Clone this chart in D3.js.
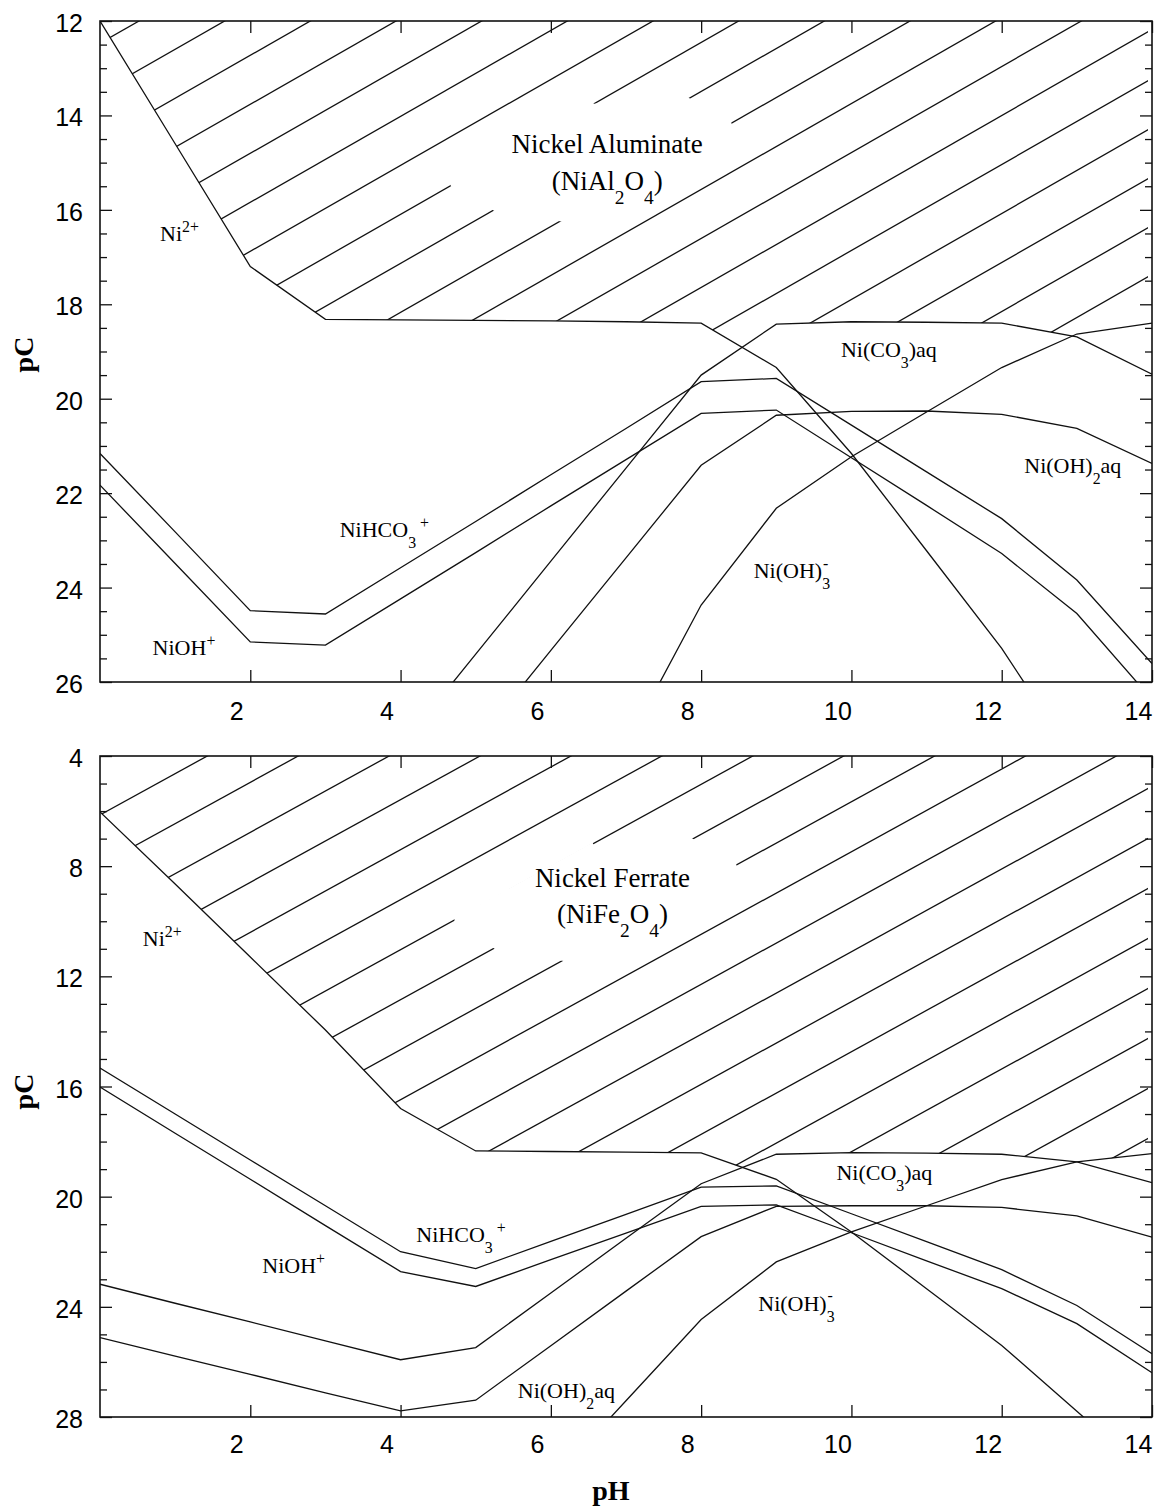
<!DOCTYPE html>
<html>
<head>
<meta charset="utf-8">
<script src="https://cdn.jsdelivr.net/npm/d3@7"></script>
<style>
  body { margin: 0; background: #fff; }
  svg { display: block; }
</style>
</head>
<body>
<svg id="chart" width="1154" height="1508"></svg>
<script>
// ---------------------------------------------------------------
// Data: pC of each solubility curve at integer pH (0 … 14).
// null = the curve lies outside the plotted pC range there.
// ---------------------------------------------------------------
const pHValues = d3.range(0, 15);

// Upper panel — nickel aluminate system
const aluNi2Boundary   = [12.0, 14.6, 17.2, 18.32, 18.33, 18.34, 18.35, 18.37, 18.40, 19.34, 21.16, 23.22, 25.29, 27.7, 30.1];
const aluNiCO3Boundary = [null, null, null, null, 27.38, 25.41, 23.44, 21.47, 19.50, 18.42, 18.37, 18.38, 18.40, 18.69, 19.48];
const aluNiOH2Boundary = [null, null, null, null, null, 27.30, 25.33, 23.37, 21.41, 20.35, 20.27, 20.26, 20.33, 20.63, 21.37];
const aluNiOH3Boundary = [null, null, null, null, null, null, null, 27.35, 24.37, 22.32, 21.23, 20.28, 19.34, 18.63, 18.40];
const aluNiHCO3Upper   = [21.16, 22.82, 24.49, 24.56, 23.58, 22.60, 21.61, 20.63, 19.64, 19.57, 20.56, 21.55, 22.54, 23.84, 25.61];
const aluNiHCO3Lower   = [21.83, 23.49, 25.15, 25.22, 24.24, 23.26, 22.27, 21.29, 20.31, 20.24, 21.25, 22.26, 23.28, 24.55, 26.37];

// Lower panel — nickel ferrate system
const ferNi2Boundary   = [6.03, 8.65, 11.30, 13.95, 16.80, 18.34, 18.36, 18.38, 18.41, 19.37, 21.28, 23.34, 25.40, 27.79, 30.2];
const ferNiCO3Boundary = [23.18, 23.87, 24.55, 25.24, 25.92, 25.48, 23.50, 21.51, 19.53, 18.46, 18.40, 18.42, 18.46, 18.74, 19.49];
const ferNiOH2Boundary = [25.12, 25.79, 26.45, 27.12, 27.78, 27.39, 25.41, 23.43, 21.45, 20.35, 20.33, 20.33, 20.39, 20.70, 21.47];
const ferNiOH3Boundary = [null, null, null, null, null, null, 30.36, 27.41, 24.46, 22.37, 21.28, 20.33, 19.38, 18.74, 18.44];
const ferNiHCO3Upper   = [15.33, 17.00, 18.67, 20.33, 22.00, 22.61, 21.62, 20.64, 19.65, 19.61, 20.62, 21.63, 22.65, 23.95, 25.70];
const ferNiHCO3Lower   = [16.02, 17.70, 19.37, 21.05, 22.72, 23.26, 22.29, 21.32, 20.35, 20.30, 21.31, 22.33, 23.34, 24.61, 26.39];

// Axis ticks
const pHTicks    = [2, 4, 6, 8, 10, 12, 14];
const aluPCTicks = [12, 14, 16, 18, 20, 22, 24, 26];
const ferPCTicks = [4, 8, 12, 16, 20, 24, 28];

// Region labels: text parts (sub/sup), anchored at (pH, pC)
const aluLabels = [
  { pH: 0.80, pC: 16.67, parts: [{ t: "Ni" }, { t: "2+", sup: true }] },
  { pH: 0.70, pC: 25.43, parts: [{ t: "NiOH" }, { t: "+", sup: true }] },
  { pH: 3.19, pC: 22.93, parts: [{ t: "NiHCO" }, { t: "3", sub: true }, { t: "+", sup: true, dx: 4 }] },
  { pH: 9.86, pC: 19.12, parts: [{ t: "Ni(CO" }, { t: "3", sub: true }, { t: ")aq" }] },
  { pH: 12.30, pC: 21.57, parts: [{ t: "Ni(OH)" }, { t: "2", sub: true }, { t: "aq" }] },
  { pH: 8.70, pC: 23.80, parts: [{ t: "Ni(OH)" }, { t: "3", sub: true }, { t: "-", sup: true, dx: -7 }] }
];
const ferLabels = [
  { pH: 0.57, pC: 10.90, parts: [{ t: "Ni" }, { t: "2+", sup: true }] },
  { pH: 2.16, pC: 22.77, parts: [{ t: "NiOH" }, { t: "+", sup: true }] },
  { pH: 4.21, pC: 21.64, parts: [{ t: "NiHCO" }, { t: "3", sub: true }, { t: "+", sup: true, dx: 4 }] },
  { pH: 5.56, pC: 27.31, parts: [{ t: "Ni(OH)" }, { t: "2", sub: true }, { t: "aq" }] },
  { pH: 9.80, pC: 19.40, parts: [{ t: "Ni(CO" }, { t: "3", sub: true }, { t: ")aq" }] },
  { pH: 8.76, pC: 24.14, parts: [{ t: "Ni(OH)" }, { t: "3", sub: true }, { t: "-", sup: true, dx: -7 }] }
];

// Solid-phase titles (centered)
const aluSolid = { pH: 6.75, pC: 14.80, pC2: 15.58, name: "Nickel Aluminate",
  formula: [{ t: "(NiAl" }, { t: "2", sub: true }, { t: "O" }, { t: "4", sub: true }, { t: ")" }] };
const ferSolid = { pH: 6.82, pC: 8.74, pC2: 10.08, name: "Nickel Ferrate",
  formula: [{ t: "(NiFe" }, { t: "2", sub: true }, { t: "O" }, { t: "4", sub: true }, { t: ")" }] };

// ---------------------------------------------------------------
// Layout and style
// ---------------------------------------------------------------
const svg = d3.select("#chart");
const INK = "#111";
const SERIF = "'Liberation Serif', 'Times New Roman', Times, serif";
const SANS = "'Liberation Sans', Arial, Helvetica, sans-serif";
const xRange = [100, 1152];
const x = d3.scaleLinear().domain([0, 14]).range(xRange);

const panels = [
  {
    id: "alu", yDomain: [12, 26], yRange: [21, 682], majors: aluPCTicks, minorStep: 0.5,
    curves: [aluNi2Boundary, aluNiCO3Boundary, aluNiOH2Boundary, aluNiOH3Boundary, aluNiHCO3Upper, aluNiHCO3Lower],
    solidBounds: [aluNi2Boundary, aluNiCO3Boundary, aluNiOH3Boundary],
    hatch: { slope: 0.572, spacing: 49, offset: 100.5 },
    // white knock-out behind the title, offsets (px) from the title anchor
    knockout: [[-156.5, 27], [-15.5, -55], [-13.5, -49.5], [78.5, -57], [123.5, -33],
               [125.5, -25], [-40.5, 69], [-110.5, 59], [-156.5, 33]],
    labels: aluLabels, solid: aluSolid, titleShift: 3, tickLabelY: 38
  },
  {
    id: "fer", yDomain: [4, 28], yRange: [756, 1417], majors: ferPCTicks, minorStep: 1,
    curves: [ferNi2Boundary, ferNiCO3Boundary, ferNiOH2Boundary, ferNiOH3Boundary, ferNiHCO3Upper, ferNiHCO3Lower],
    solidBounds: [ferNi2Boundary, ferNiCO3Boundary, ferNiOH3Boundary],
    hatch: { slope: 0.55, spacing: 50, offset: 870 },
    knockout: [[-158, 31.8], [-20, -44.1], [-18, -40.2], [78, -49], [123, -24.75],
               [125, -17.85], [-44, 75.1], [-115, 64], [-158, 38]],
    labels: ferLabels, solid: ferSolid, titleShift: 5, tickLabelY: 36
  }
];

// Writes text parts with sub/superscripts into a <text> element
function richText(textSel, parts, size) {
  let shift = 0;
  parts.forEach(p => {
    const target = p.sub ? size * 0.5 : p.sup ? -size * 0.42 : 0;
    const ts = textSel.append("tspan")
      .attr("dy", target - shift)
      .text(p.t);
    if (p.dx) ts.attr("dx", p.dx);
    if (p.sub || p.sup) ts.style("font-size", (size * 0.72) + "px");
    shift = target;
  });
}

const defs = svg.append("defs");

panels.forEach(P => {
  const y = d3.scaleLinear().domain(P.yDomain).range(P.yRange);
  const [top, bottom] = P.yRange;
  const [left, right] = xRange;
  const g = svg.append("g");

  // plot clip
  defs.append("clipPath").attr("id", `plot-${P.id}`)
    .append("rect").attr("x", left).attr("y", top)
    .attr("width", right - left).attr("height", bottom - top);

  // hatch clip: plot area, stopping just short of the right frame
  defs.append("clipPath").attr("id", `hatchbox-${P.id}`)
    .append("rect").attr("x", left).attr("y", top)
    .attr("width", right - left - 4).attr("height", bottom - top);

  // region above each solid-phase boundary (smaller pC)
  const far = P.yDomain[1] + 30;
  const above = d3.area()
    .x((d, i) => x(pHValues[i]))
    .y0(top - 10)
    .y1(d => y(d == null ? far : d));
  P.solidBounds.forEach((arr, k) => {
    defs.append("clipPath").attr("id", `above-${P.id}-${k}`)
      .append("path").attr("d", above(arr));
  });

  // hatched solid-phase field (nested clips = intersection)
  let hg = g.append("g").attr("clip-path", `url(#hatchbox-${P.id})`);
  P.solidBounds.forEach((arr, k) => {
    hg = hg.append("g").attr("clip-path", `url(#above-${P.id}-${k})`);
  });
  const H = P.hatch;
  const kMax = Math.ceil((bottom + H.slope * right - H.offset) / H.spacing) + 1;
  hg.selectAll("line.hatch").data(d3.range(0, kMax + 1)).join("line")
    .attr("class", "hatch")
    .attr("x1", left).attr("x2", right)
    .attr("y1", k => H.offset + k * H.spacing - H.slope * left)
    .attr("y2", k => H.offset + k * H.spacing - H.slope * right)
    .attr("stroke", INK).attr("stroke-width", 1.3);

  // knock-out behind the solid-phase title
  const sx = x(P.solid.pH), sy = y(P.solid.pC);
  g.append("polygon")
    .attr("points", P.knockout.map(([dx, dy]) => `${sx + dx},${sy + dy}`).join(" "))
    .attr("fill", "#fff");

  // solubility curves
  const line = d3.line()
    .defined(d => d != null)
    .x((d, i) => x(pHValues[i]))
    .y(d => y(d));
  g.append("g").attr("clip-path", `url(#plot-${P.id})`)
    .selectAll("path.curve").data(P.curves).join("path")
    .attr("class", "curve")
    .attr("d", d => line(d))
    .attr("fill", "none").attr("stroke", INK).attr("stroke-width", 1.3)
    .attr("stroke-linejoin", "miter");

  // frame
  g.append("rect").attr("x", left).attr("y", top)
    .attr("width", right - left).attr("height", bottom - top)
    .attr("fill", "none").attr("stroke", INK).attr("stroke-width", 1.6);

  // ticks
  const minors = d3.range(P.yDomain[0], P.yDomain[1] + 1e-9, P.minorStep)
    .filter(v => !P.majors.some(m => Math.abs(m - v) < 1e-9));
  const styleAxis = sel => {
    sel.select(".domain").remove();
    sel.selectAll(".tick line").attr("stroke", INK).attr("stroke-width", 1.3);
  };

  g.append("g").attr("transform", `translate(${left},0)`)
    .call(d3.axisLeft(y).tickValues(minors).tickSize(-7).tickFormat(""))
    .call(styleAxis);
  g.append("g").attr("transform", `translate(${left},0)`)
    .call(d3.axisLeft(y).tickValues(P.majors).tickSize(-12).tickPadding(17).tickFormat(d3.format("d")))
    .call(styleAxis)
    .call(s => s.selectAll("text").attr("dy", "0.42em")
      .style("font-family", SANS).style("font-size", "25px").attr("fill", "#000"));

  g.append("g").attr("transform", `translate(${right},0)`)
    .call(d3.axisRight(y).tickValues(minors).tickSize(-7).tickFormat(""))
    .call(styleAxis);
  g.append("g").attr("transform", `translate(${right},0)`)
    .call(d3.axisRight(y).tickValues(P.majors).tickSize(-12).tickFormat(""))
    .call(styleAxis);

  g.append("g").attr("transform", `translate(0,${top})`)
    .call(d3.axisTop(x).tickValues(pHTicks).tickSize(-12).tickFormat(""))
    .call(styleAxis);
  g.append("g").attr("transform", `translate(0,${bottom})`)
    .call(d3.axisBottom(x).tickValues(pHTicks).tickSize(-12).tickFormat(d3.format("d")))
    .call(styleAxis)
    .call(s => s.selectAll("text").attr("y", P.tickLabelY).attr("dy", 0).attr("dx", -14)
      .style("font-family", SANS).style("font-size", "25px").attr("fill", "#000"));

  // y-axis title
  g.append("text")
    .attr("transform", `translate(33,${(top + bottom) / 2 + P.titleShift}) rotate(-90)`)
    .attr("text-anchor", "middle")
    .style("font-family", SERIF).style("font-size", "28px").style("font-weight", "bold")
    .attr("fill", "#000").text("pC");

  // region labels
  P.labels.forEach(L => {
    const t = g.append("text")
      .attr("x", x(L.pH)).attr("y", y(L.pC))
      .style("font-family", SERIF).style("font-size", "22px").attr("fill", "#000");
    richText(t, L.parts, 22);
  });

  // solid-phase title
  g.append("text").attr("x", sx).attr("y", sy).attr("text-anchor", "middle")
    .style("font-family", SERIF).style("font-size", "27px").attr("fill", "#000")
    .text(P.solid.name);
  const f = g.append("text").attr("x", sx).attr("y", y(P.solid.pC2)).attr("text-anchor", "middle")
    .style("font-family", SERIF).style("font-size", "27px").attr("fill", "#000");
  richText(f, P.solid.formula, 27);
});

// x-axis title
svg.append("text")
  .attr("x", x(6.8)).attr("y", 1500).attr("text-anchor", "middle")
  .style("font-family", SERIF).style("font-size", "28px").style("font-weight", "bold")
  .attr("fill", "#000").text("pH");
</script>
</body>
</html>
